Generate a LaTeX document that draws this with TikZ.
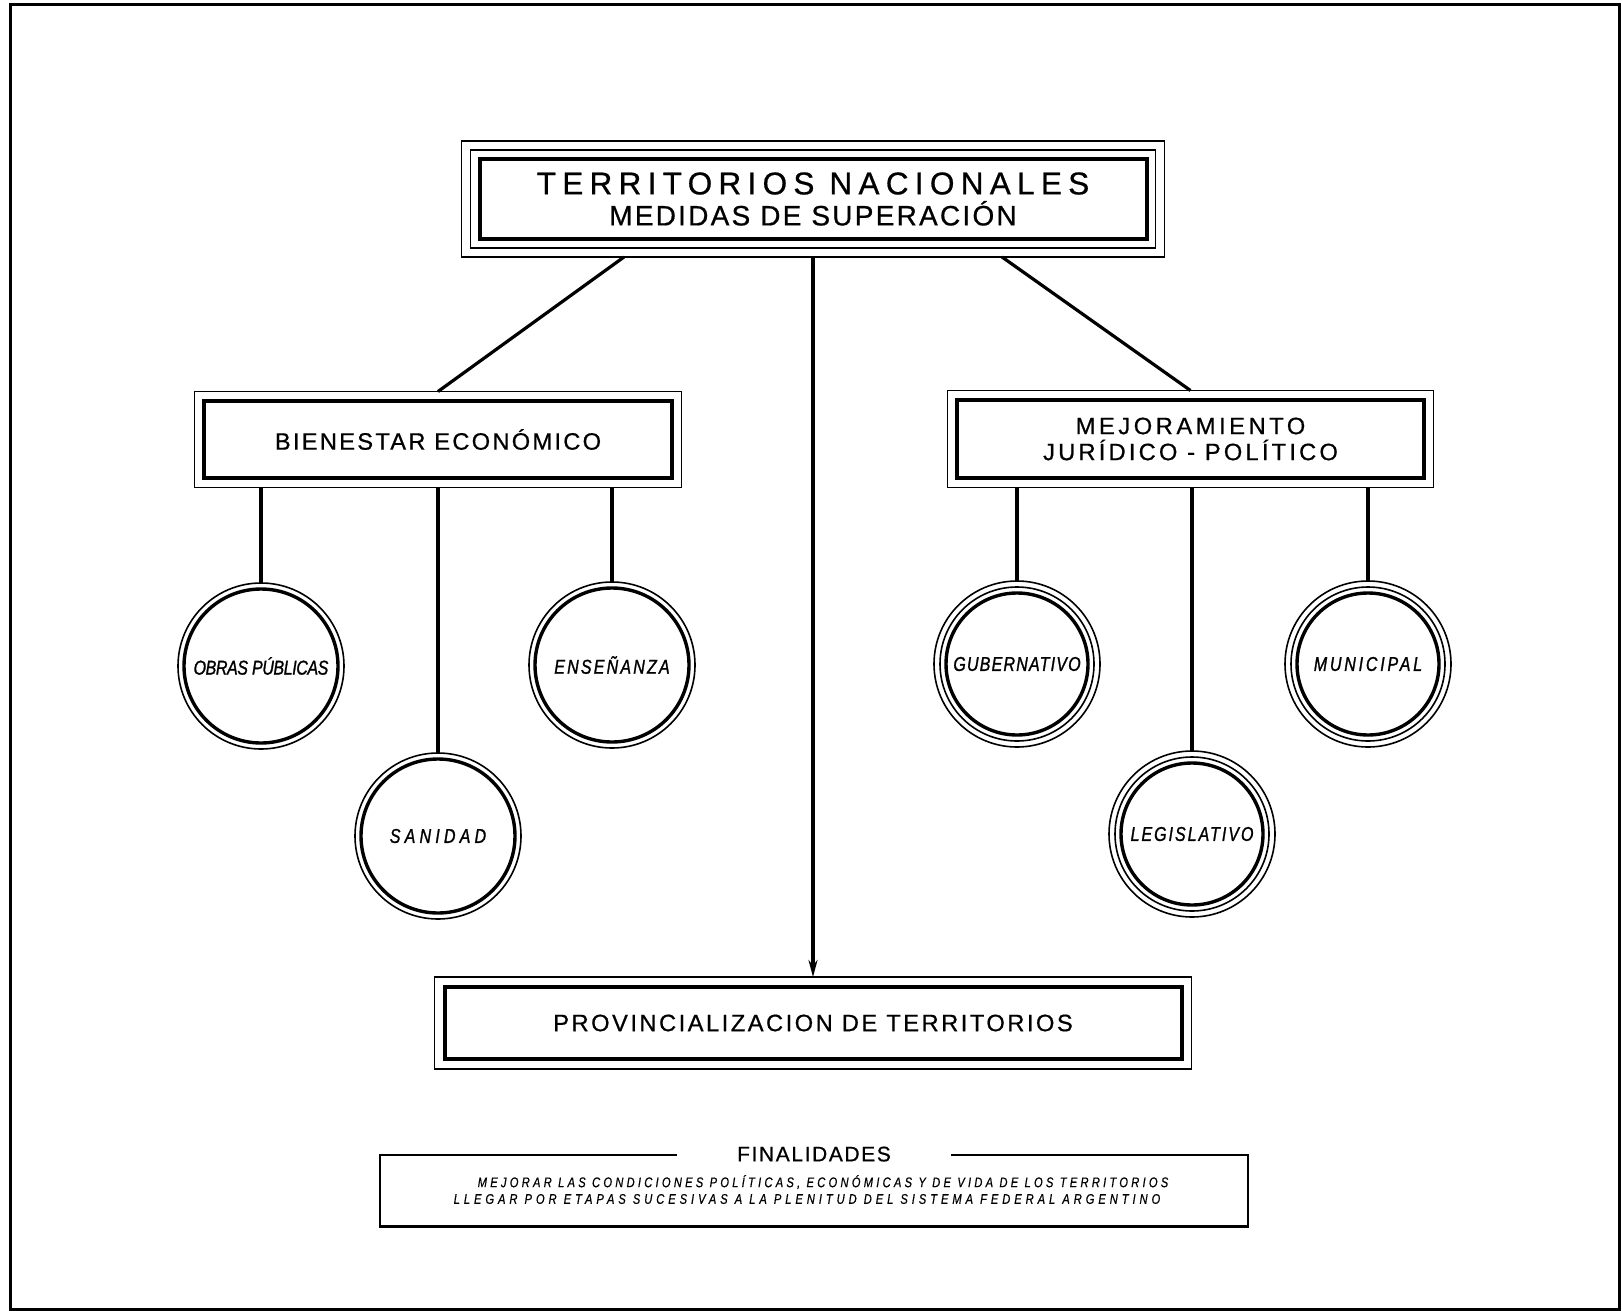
\documentclass[tikz,border=0pt]{standalone}
\usepackage{fontspec}
\setmainfont{Liberation Sans}
\newfontfamily\rotulo[FakeBold=0.7]{Liberation Sans}
\newfontfamily\cursiva[FakeStretch=0.8,FakeBold=1.2]{Liberation Sans}
\newfontfamily\leyenda[FakeStretch=0.8,FakeBold=0.6]{Liberation Sans}
\usetikzlibrary{calc,positioning,fit}
\usetikzlibrary{arrows,arrows.meta}
\tikzset{>={Stealth[length=17pt,width=9pt]}}
\newcommand{\espaciado}[1]{\addfontfeatures{LetterSpace=#1}}

\begin{document}
\begin{tikzpicture}[x=1pt,y=-1pt,
  linea/.style={line width=3.2pt},
  caja/.style={draw,line width=4pt,inner sep=0pt,outer sep=0pt,align=center,font=\rotulo\fontsize{23.7}{26}\selectfont},
  borde/.style={draw,line width=1.6pt,outer sep=0pt},
  aro/.style={circle,draw,line width=1.6pt,minimum size=166pt,inner sep=0pt,outer sep=0pt,font=\cursiva\itshape\fontsize{20}{22}\selectfont},
  anillo/.style={line width=1.6pt},
  nucleo/.style={line width=3.4pt}]

\useasboundingbox (0,0) rectangle (1622,1311);
\draw[line width=3pt] (10,5) rectangle (1619,1309);

% cabecera
\node[caja,minimum width=667pt,minimum height=80pt,font=\rotulo\fontsize{30}{31}\selectfont] (titulo) at (813,199)
  {{\fontsize{31.5}{31}\selectfont\espaciado{20}TERRITORIOS NACIONALES}\\{\fontsize{28}{31}\selectfont\espaciado{8}MEDIDAS DE SUPERACIÓN}};
\node[borde,fit=(titulo),inner sep=9pt] (tituloB) {};
\node[borde,fit=(tituloB),inner sep=9pt] (tituloC) {};

% ramas
\node[caja,minimum width=468pt,minimum height=77pt] (bienestar) at (438,439.5) {\espaciado{9.5}BIENESTAR ECONÓMICO};
\node[borde,fit=(bienestar),inner sep=9.5pt] (bienestarB) {};
\node[caja,minimum width=467pt,minimum height=78pt] (mejora) at (1190.5,439)
  {{\espaciado{15}MEJORAMIENTO}\\{\espaciado{13.5}JURÍDICO - POLÍTICO}};
\node[borde,fit=(mejora),inner sep=9.5pt] (mejoraB) {};

\node[caja,minimum width=737pt,minimum height=72pt] (provincia) at (813,1023) {\espaciado{10.5}PROVINCIALIZACION DE TERRITORIOS};
\node[borde,fit=(provincia),inner sep=10pt] (provinciaB) {};

\draw[linea] ($(tituloC.south)+(-189,0)$) -- (bienestarB.north);
\draw[linea] ($(tituloC.south)+(189,0)$) -- (mejoraB.north);
\draw[linea,->] (tituloC.south) -- (provinciaB.north);

% circulos
\node[aro] (obras) at (261,666) {\espaciado{-2}OBRAS PÚBLICAS};
\node[aro] (sanidad) at (438,836) {\espaciado{21}SANIDAD};
\node[aro] (ensenanza) at (612,665) {\espaciado{11}ENSEÑANZA};
\draw[nucleo] (obras.center) circle[radius=77pt];
\draw[nucleo] (sanidad.center) circle[radius=77pt];
\draw[nucleo] (ensenanza.center) circle[radius=77pt];

\node[aro] (gobierno) at (1017,664) {\espaciado{6}GUBERNATIVO};
\node[aro] (legislativo) at (1192,834) {\espaciado{10}LEGISLATIVO};
\node[aro] (municipal) at (1368,664) {\espaciado{14}MUNICIPAL};
\draw[anillo] (gobierno.center) circle[radius=77pt];
\draw[anillo] (legislativo.center) circle[radius=77pt];
\draw[anillo] (municipal.center) circle[radius=77pt];
\draw[nucleo] (gobierno.center) circle[radius=71pt];
\draw[nucleo] (legislativo.center) circle[radius=71pt];
\draw[nucleo] (municipal.center) circle[radius=71pt];

\draw[linea] (bienestarB.south -| obras.north) -- (obras.north);
\draw[linea] (bienestarB.south -| sanidad.north) -- (sanidad.north);
\draw[linea] (bienestarB.south -| ensenanza.north) -- (ensenanza.north);
\draw[linea] (mejoraB.south -| gobierno.north) -- (gobierno.north);
\draw[linea] (mejoraB.south -| legislativo.north) -- (legislativo.north);
\draw[linea] (mejoraB.south -| municipal.north) -- (municipal.north);

% finalidades
\node[draw,line width=1.8pt,minimum width=868pt,minimum height=71pt,inner sep=0pt] (objetivos) at (814,1190.5) {};
\draw[line width=3pt] (objetivos.south west) -- (objetivos.south east);
\node[fill=white,inner xsep=60pt,inner ysep=2pt,font=\rotulo\fontsize{21}{23}\selectfont] (finalidades) at (objetivos.north) {\espaciado{7.6}FINALIDADES};
\node[font=\leyenda\itshape\fontsize{14}{16}\selectfont] (metaA) at (823,1182) {\espaciado{23}MEJORAR LAS CONDICIONES POLÍTICAS, ECONÓMICAS Y DE VIDA DE LOS TERRITORIOS};
\node[font=\leyenda\itshape\fontsize{14}{16}\selectfont] (metaB) at (807,1199) {\espaciado{28}LLEGAR POR ETAPAS SUCESIVAS A LA PLENITUD DEL SISTEMA FEDERAL ARGENTINO};
\end{tikzpicture}
\end{document}
